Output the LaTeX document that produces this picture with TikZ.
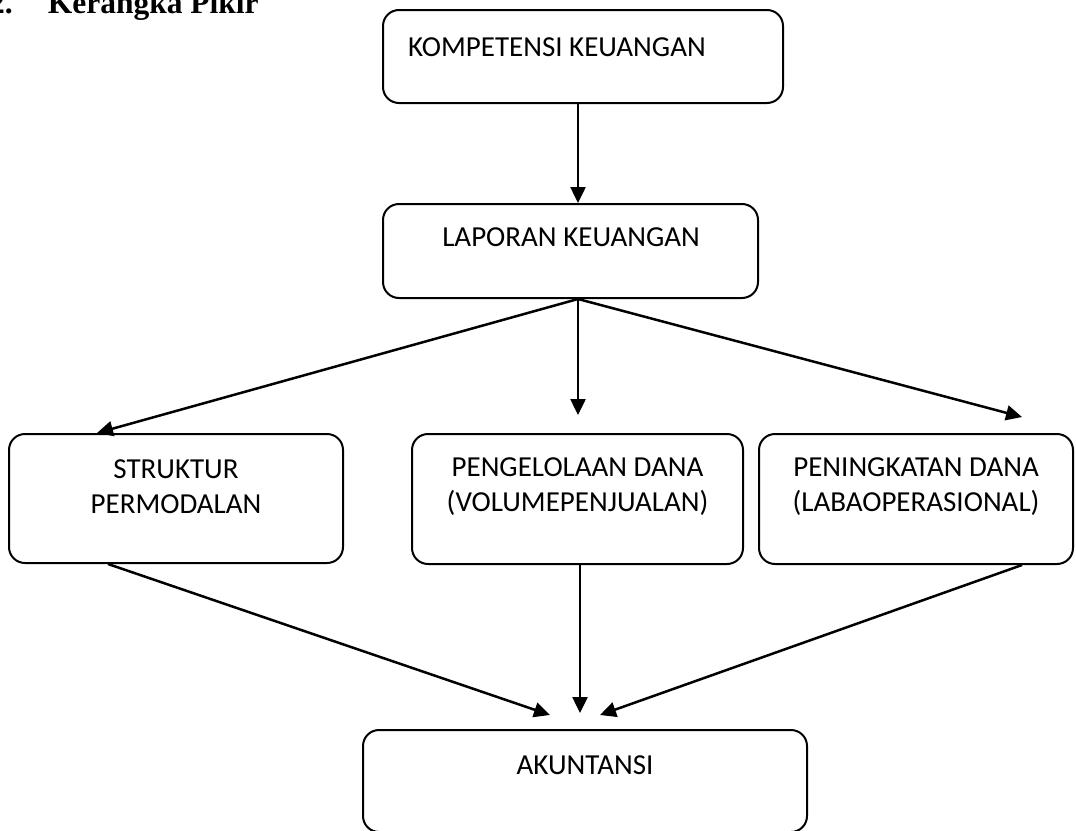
\documentclass[tikz,border=0pt]{standalone}
\usepackage{fontspec}
\setmainfont{Carlito}
\newfontfamily\titlefont{Liberation Serif}
\usetikzlibrary{arrows.meta}
\tikzset{
  box/.style={draw, line width=2pt, rounded corners=16pt, inner sep=0pt},
  lbl/.style={font=\fontsize{29}{35}\selectfont, inner sep=0pt, align=center},
  arr/.style={line width=2.5pt, -{Triangle[length=16pt,width=15pt]}},
}
\begin{document}
\begin{tikzpicture}[x=1pt,y=-1pt]
\useasboundingbox (0,0) rectangle (1076,830);
% title (partly cut off at the top and left, as in the reference)
\node[anchor=base west, inner sep=0pt, font=\titlefont\bfseries\fontsize{31.5}{36}\selectfont] (title) at (-11,13) {2.\hspace{35pt}Kerangka Pikir};
% boxes
\node[box, minimum width=400pt, minimum height=93pt] (kom) at (583,56.5) {};
\node[box, minimum width=375pt, minimum height=94pt] (lap) at (570.5,251) {};
\node[box, minimum width=334pt, minimum height=129pt] (str) at (176,498.5) {};
\node[box, minimum width=331pt, minimum height=130pt] (pen) at (577.5,499) {};
\node[box, minimum width=314pt, minimum height=130pt] (pei) at (916,499) {};
\node[box, minimum width=444pt, minimum height=102pt] (aku) at (585,781) {};
% texts
\node[lbl, anchor=base west] (tkom) at (408,56) {KOMPETENSI KEUANGAN};
\node[lbl, anchor=base] (tlap) at (571,246) {LAPORAN KEUANGAN};
\node[lbl] (tstr) at (176,487) {STRUKTUR\\PERMODALAN};
\node[lbl] (tpen) at (577.5,487) {PENGELOLAAN DANA\\(VOLUMEPENJUALAN)};
\node[lbl] (tpei) at (916,487) {PENINGKATAN DANA\\(LABAOPERASIONAL)};
\node[lbl, anchor=base] (taku) at (585,774) {AKUNTANSI};
% reference coordinates
\coordinate (ax) at (578,0);
\coordinate (xa) at (97,0);
\coordinate (xb) at (108,0);
\coordinate (xc) at (580,0);
\coordinate (xd) at (1022,0);
\coordinate (e2) at (578,415);
\coordinate (e3) at (1022,417);
\coordinate (f1) at (550,715);
\coordinate (f2) at (580,713);
\coordinate (f3) at (600,715);
% connectors
\draw[arr] (kom.south -| ax) -- (lap.north -| ax);
\draw[arr] (lap.south -| ax) -- (str.north -| xa);
\draw[arr] (lap.south -| ax) -- (e2);
\draw[arr] (lap.south -| ax) -- (e3);
\draw[arr] (str.south -| xb) -- (f1);
\draw[arr] (pen.south -| xc) -- (f2);
\draw[arr] (pei.south -| xd) -- (f3);
\end{tikzpicture}
\end{document}
